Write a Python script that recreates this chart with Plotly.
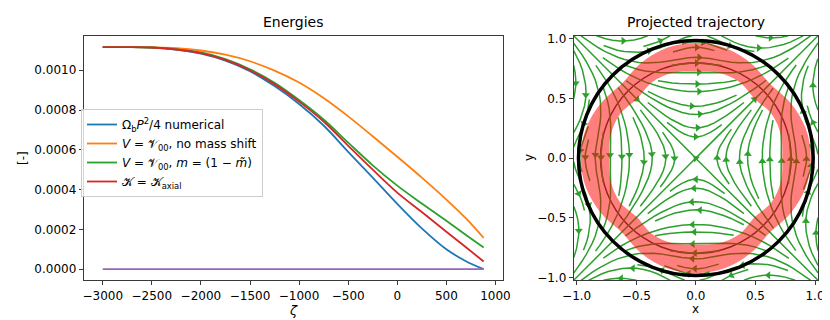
import numpy as np
import plotly.graph_objects as go

# ---------------- Energies (left panel) ----------------
zeta = [-3000, -2750, -2500, -2250, -2000, -1750, -1500, -1250, -1000,
        -750, -500, -250, 0, 250, 500, 700, 880]
e_numerical = [0.001116, 0.001116, 0.001113, 0.001103, 0.001083, 0.001048, 0.000995,
               0.000920, 0.000830, 0.000722, 0.000590, 0.000460, 0.000328, 0.000205,
               0.000100, 0.000040, 0.000000]
e_no_shift = [0.001116, 0.001116, 0.001115, 0.001111, 0.001099, 0.001078, 0.001045,
              0.000998, 0.000938, 0.000860, 0.000768, 0.000668, 0.000565, 0.000460,
              0.000350, 0.000255, 0.000157]
e_mass_shift = [0.001116, 0.001116, 0.001114, 0.001105, 0.001089, 0.001056, 0.001005,
                0.000937, 0.000850, 0.000752, 0.000636, 0.000522, 0.000420, 0.000330,
                0.000243, 0.000172, 0.000109]
e_axial = [0.001116, 0.001116, 0.001114, 0.001104, 0.001086, 0.001052, 0.001000,
           0.000930, 0.000842, 0.000742, 0.000620, 0.000500, 0.000385, 0.000287,
           0.000188, 0.000110, 0.0000386]
e_zero = [0.0] * len(zeta)

series_names = [
    "Ω<sub>b</sub><i>P</i><sup>2</sup>/4 numerical",
    "<i>V</i> = 𝒱<sub>00</sub>, no mass shift",
    "<i>V</i> = 𝒱<sub>00</sub>, <i>m</i> = (1 − <i>m̃</i>)",
    "𝒦 = 𝒦<sub>axial</sub>",
]
series_values = [e_numerical, e_no_shift, e_mass_shift, e_axial]
series_colors = ["#1f77b4", "#ff7f0e", "#2ca02c", "#d62728"]
zero_color = "#9467bd"

x_ticks_left = [-3000, -2500, -2000, -1500, -1000, -500, 0, 500, 1000]
y_ticks_left = [0.0, 0.0002, 0.0004, 0.0006, 0.0008, 0.0010]

# ---------------- Projected trajectory (right panel) ----------------
band_angles_deg = list(range(0, 360, 15))
band_outer_octant = [0.965, 0.955, 0.92, 0.88]   # 0,15,30,45 deg
band_inner_octant = [0.725, 0.74, 0.735, 0.70]
guide_radius = 0.80
circle_radius = 0.985
xy_ticks = [-1.0, -0.5, 0.0, 0.5, 1.0]
lim = 1.025

# vector field: Hamiltonian H = (y^2 - x^2) * (1/2 + k x^2 y^2)
field_n = 81
k_quartic = 2.5
stream_density = 1.15


def mirror_octant(vals):
    q = vals + [vals[2], vals[1]]
    full = []
    for _ in range(4):
        full += q
    return full


band_outer = mirror_octant(band_outer_octant)
band_inner = mirror_octant(band_inner_octant)

# ---------------- field + streamlines (matplotlib-like algorithm) ----------------
gx = np.linspace(-lim, lim, field_n)
gy = np.linspace(-lim, lim, field_n)
X, Y = np.meshgrid(gx, gy)
Pq = 0.5 + k_quartic * X**2 * Y**2
D = Y**2 - X**2
H_y = 2 * Y * Pq + D * (2 * k_quartic * X**2 * Y)
H_x = -2 * X * Pq + D * (2 * k_quartic * X * Y**2)
U = H_y
V = -H_x


class Stop(Exception):
    pass


def streamlines(xg, yg, u, v, density=1.0, minlength=0.1, maxlength=4.0):
    nx, ny = len(xg), len(yg)
    dxg = (xg[-1] - xg[0]) / (nx - 1)
    dyg = (yg[-1] - yg[0]) / (ny - 1)
    mnx = mny = int(30 * density)
    mask = np.zeros((mny, mnx), dtype=int)
    gx2m = (mnx - 1) / (nx - 1)
    gy2m = (mny - 1) / (ny - 1)
    ug = u / dxg
    vg = v / dyg
    speed = np.hypot(ug / (nx - 1), vg / (ny - 1))
    state = {"traj": [], "cur": None}

    def interp(a, xi, yi):
        x = int(xi); y = int(yi)
        xn = x if x == nx - 1 else x + 1
        yn = y if y == ny - 1 else y + 1
        xt = xi - x; yt = yi - y
        a0 = a[y, x] * (1 - xt) + a[y, xn] * xt
        a1 = a[yn, x] * (1 - xt) + a[yn, xn] * xt
        return a0 * (1 - yt) + a1 * yt

    def within(xi, yi):
        return 0 <= xi <= nx - 1 and 0 <= yi <= ny - 1

    def g2m(xi, yi):
        return int(xi * gx2m + 0.5), int(yi * gy2m + 0.5)

    def update(xi, yi):
        if not within(xi, yi):
            raise IndexError
        xm, ym = g2m(xi, yi)
        if state["cur"] != (xm, ym):
            if mask[ym, xm] == 0:
                state["traj"].append((ym, xm))
                mask[ym, xm] = 1
                state["cur"] = (xm, ym)
            else:
                raise IndexError

    def fwd(xi, yi):
        if not within(xi, yi):
            raise OverflowError
        s = interp(speed, xi, yi)
        if s == 0:
            raise Stop
        return interp(ug, xi, yi) / s, interp(vg, xi, yi) / s

    def bwd(xi, yi):
        a, b = fwd(xi, yi)
        return -a, -b

    def rk12(x0, y0, f):
        maxerror = 0.003
        maxds = min(1.0 / mnx, 1.0 / mny, 0.1)
        ds = maxds
        stotal = 0.0
        xi, yi = x0, y0
        traj = []
        while True:
            try:
                if within(xi, yi):
                    traj.append((xi, yi))
                else:
                    raise OverflowError
                k1x, k1y = f(xi, yi)
                k2x, k2y = f(xi + ds * k1x, yi + ds * k1y)
            except OverflowError:
                if traj:
                    xl, yl = traj[-1]
                    try:
                        cx, cy = f(xl, yl)
                        dsx = np.inf if cx == 0 else (xl / -cx if cx < 0 else (nx - 1 - xl) / cx)
                        dsy = np.inf if cy == 0 else (yl / -cy if cy < 0 else (ny - 1 - yl) / cy)
                        dd = min(dsx, dsy)
                        traj.append((xl + cx * dd, yl + cy * dd))
                        stotal += dd
                    except (Stop, OverflowError):
                        pass
                break
            except Stop:
                break
            dx1, dy1 = ds * k1x, ds * k1y
            dx2, dy2 = ds * 0.5 * (k1x + k2x), ds * 0.5 * (k1y + k2y)
            err = np.hypot((dx2 - dx1) / (nx - 1), (dy2 - dy1) / (ny - 1))
            if err < maxerror:
                xi += dx2; yi += dy2
                try:
                    update(xi, yi)
                except IndexError:
                    break
                if stotal + ds > maxlength:
                    break
                stotal += ds
            ds = maxds if err == 0 else min(maxds, 0.85 * ds * (maxerror / err) ** 0.5)
        return stotal, traj

    def seeds():
        xfirst, yfirst, xlast, ylast = 0, 1, mnx - 1, mny - 1
        x = y = 0
        d = "right"
        for _ in range(mnx * mny):
            yield x, y
            if d == "right":
                x += 1
                if x >= xlast:
                    xlast -= 1; d = "up"
            elif d == "up":
                y += 1
                if y >= ylast:
                    ylast -= 1; d = "left"
            elif d == "left":
                x -= 1
                if x <= xfirst:
                    xfirst += 1; d = "down"
            else:
                y -= 1
                if y <= yfirst:
                    yfirst += 1; d = "right"

    out = []
    for xm, ym in seeds():
        if mask[ym, xm] != 0:
            continue
        x0, y0 = xm / gx2m, ym / gy2m
        state["traj"] = []
        state["cur"] = None
        try:
            update(x0, y0)
        except IndexError:
            continue
        s1, t1 = rk12(x0, y0, bwd)
        state["cur"] = g2m(x0, y0)
        s2, t2 = rk12(x0, y0, fwd)
        tot = s1 + s2
        pts = t1[::-1] + t2[1:]
        if tot > minlength and len(pts) > 1:
            arr = np.array(pts)
            out.append(np.column_stack([xg[0] + arr[:, 0] * dxg, yg[0] + arr[:, 1] * dyg]))
        else:
            for (a, b) in state["traj"]:
                mask[a, b] = 0
    return out


trajs = streamlines(gx, gy, U, V, density=stream_density)

sl_x, sl_y, ar_x, ar_y, ar_ang = [], [], [], [], []
for t in trajs:
    sl_x += list(t[:, 0]) + [None]
    sl_y += list(t[:, 1]) + [None]
    seg = np.hypot(np.diff(t[:, 0]), np.diff(t[:, 1]))
    s = np.cumsum(seg)
    if len(s) == 0:
        continue
    n = int(np.searchsorted(s, s[-1] / 2.0))
    n = min(n, len(t) - 2)
    hx = t[n:n + 2, 0].mean(); hy = t[n:n + 2, 1].mean()
    ddx = t[n + 1, 0] - t[n, 0]; ddy = t[n + 1, 1] - t[n, 1]
    ar_x.append(hx); ar_y.append(hy)
    ar_ang.append(float(np.degrees(np.arctan2(ddx, ddy))))

# band polygon (outer ring ccw, inner ring cw)
ang = np.radians(band_angles_deg + [360])
ro = np.array(band_outer + [band_outer[0]])
ri = np.array(band_inner + [band_inner[0]])
bx = list(ro * np.cos(ang)) + [None] + list((ri * np.cos(ang))[::-1])
by = list(ro * np.sin(ang)) + [None] + list((ri * np.sin(ang))[::-1])

# ---------------- figure ----------------
W, H = 830, 320
L1, R1, L2, R2 = 75.7, 494.7, 565.7, 810.0
T1, B1 = 27.8, 272.3
fig = go.Figure()

for name, vals, col in zip(series_names, series_values, series_colors):
    fig.add_trace(go.Scatter(x=zeta, y=vals, name=name, mode="lines", line_shape="spline",
                             line=dict(color=col, width=1.8, smoothing=1.0),
                             xaxis="x", yaxis="y"))
fig.add_trace(go.Scatter(x=zeta, y=e_zero, mode="lines", showlegend=False,
                         line=dict(color=zero_color, width=1.8), xaxis="x", yaxis="y"))

fig.add_trace(go.Scatter(x=sl_x, y=sl_y, mode="lines", showlegend=False, hoverinfo="skip",
                         line=dict(color="#2ca02c", width=1.5), xaxis="x2", yaxis="y2"))
fig.add_trace(go.Scatter(x=ar_x, y=ar_y, mode="markers", showlegend=False, hoverinfo="skip",
                         marker=dict(symbol="triangle-up", size=7, color="#2ca02c",
                                     angle=ar_ang, line=dict(width=0)),
                         xaxis="x2", yaxis="y2"))
fig.add_trace(go.Scatter(x=bx, y=by, mode="lines", fill="toself", line_shape="spline",
                         fillcolor="rgba(255,0,0,0.5)", line=dict(width=0, color="rgba(0,0,0,0)"),
                         showlegend=False, hoverinfo="skip", xaxis="x2", yaxis="y2"))

shapes = [
    dict(type="circle", xref="x2", yref="y2", x0=-guide_radius, x1=guide_radius,
         y0=-guide_radius, y1=guide_radius, line=dict(color="rgba(0,0,0,0.75)", width=1.5),
         layer="below"),
    dict(type="circle", xref="x2", yref="y2", x0=-circle_radius, x1=circle_radius,
         y0=-circle_radius, y1=circle_radius, line=dict(color="black", width=3.5),
         layer="above"),
]

axis_common = dict(showline=True, mirror=True, linecolor="#3a3a3a", linewidth=1,
                   ticks="outside", ticklen=4, tickwidth=1, tickcolor="#3a3a3a",
                   showgrid=False, zeroline=False, automargin=False,
                   tickfont=dict(family="DejaVu Sans", size=12, color="black"))

fig.update_layout(
    width=W, height=H, margin=dict(l=0, r=0, t=0, b=0),
    paper_bgcolor="white", plot_bgcolor="white",
    font=dict(family="DejaVu Sans", color="black"),
    xaxis=dict(domain=[L1 / W, R1 / W], range=[-3194, 1074], tickvals=x_ticks_left,
               anchor="y", **axis_common),
    yaxis=dict(domain=[1 - B1 / H, 1 - T1 / H], range=[-0.0000559, 0.0011729],
               tickvals=y_ticks_left, tickformat=".4f", anchor="x", **axis_common),
    xaxis2=dict(domain=[L2 / W, R2 / W], range=[-lim, lim], tickvals=xy_ticks,
                tickformat=".1f", anchor="y2", **axis_common),
    yaxis2=dict(domain=[1 - B1 / H, 1 - T1 / H], range=[-lim, lim], tickvals=xy_ticks,
                tickformat=".1f", anchor="x2", **axis_common),
    legend=dict(x=73 / W, y=1 - 101 / H, xanchor="left", yanchor="top",
                bgcolor="rgba(255,255,255,0.8)", bordercolor="#cccccc", borderwidth=1,
                font=dict(family="DejaVu Sans", size=12), tracegroupgap=0),
    shapes=shapes,
    showlegend=True,
)

ann = [
    dict(text="Energies", x=(L1 + R1) / 2 / W, y=1 - T1 / H, yshift=4, showarrow=False,
         xref="paper", yref="paper", xanchor="center", yanchor="bottom", font=dict(size=14)),
    dict(text="Projected trajectory", x=(L2 + R2) / 2 / W, y=1 - T1 / H, yshift=4,
         showarrow=False, xref="paper", yref="paper", xanchor="center", yanchor="bottom",
         font=dict(size=14)),
    dict(text="<i>ζ</i>", x=(L1 + R1) / 2 / W, y=1 - 302 / H, showarrow=False, xref="paper",
         yref="paper", xanchor="center", yanchor="middle", font=dict(size=13)),
    dict(text="[-]", x=15 / W, y=1 - 150 / H, showarrow=False, xref="paper", yref="paper",
         xanchor="center", yanchor="middle", textangle=-90, font=dict(size=12)),
    dict(text="x", x=(L2 + R2) / 2 / W, y=1 - 301 / H, showarrow=False, xref="paper",
         yref="paper", xanchor="center", yanchor="middle", font=dict(size=12)),
    dict(text="y", x=521 / W, y=1 - 150 / H, showarrow=False, xref="paper", yref="paper",
         xanchor="center", yanchor="middle", textangle=-90, font=dict(size=12)),
]
fig.update_layout(annotations=ann)

fig.write_html("out.html")
